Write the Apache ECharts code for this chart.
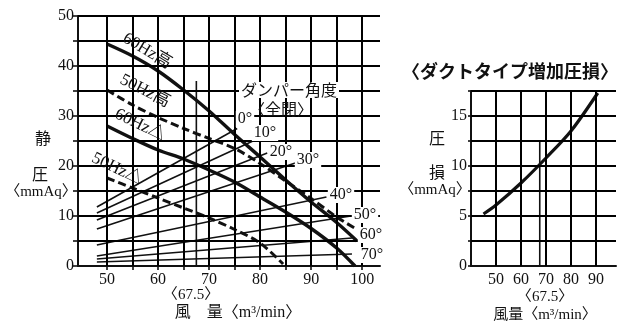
<!DOCTYPE html>
<html><head><meta charset="utf-8">
<script src="https://cdn.jsdelivr.net/npm/echarts@6/dist/echarts.min.js"></script>
<style>html,body{margin:0;padding:0;background:#fff}#c{width:619px;height:326px}</style>
</head><body><div id="c"></div>
<script>
// ---------- data (left chart: fan curves, static pressure mmAq vs air volume m3/min) ----------
const hz60HighQ = [50, 55, 60, 65, 70, 75, 80, 85, 90, 95, 99];
const hz60HighP = [44.4, 42, 39, 35.2, 31, 26.3, 21.8, 17.2, 12.8, 8.7, 5];
const hz60TriQ  = [50, 55, 60, 65, 70, 75, 80, 85, 90, 95, 98.6];
const hz60TriP  = [28, 25.5, 23.2, 21.4, 19.2, 16.8, 13.8, 10.8, 7.5, 3.6, 0];
const hz50HighQ = [50, 55, 60, 65, 70, 75, 80, 85, 90, 95, 98.5];
const hz50HighP = [35.2, 32.2, 29.7, 27.5, 25.5, 23.5, 20.5, 17, 13.5, 9.8, 7.6];
const hz50TriQ  = [50, 55, 60, 65, 70, 75, 80, 84.5];
const hz50TriP  = [17.6, 15.6, 13.6, 11.6, 9.6, 7.3, 4.6, 0.4];
// damper resistance lines (0°..70°)
const damperNames  = ['0°', '10°', '20°', '30°', '40°', '50°', '60°', '70°'];
const damperStartQ = [48, 48, 48, 48, 48, 48, 48, 48];
const damperStartP = [11.8, 10.6, 9.2, 7.4, 4.2, 2.0, 1.4, 0.8];
const damperEndQ   = [75.5, 78.6, 81.4, 86.9, 93, 97.8, 98, 98];
const damperEndP   = [27.5, 25, 22.6, 20.6, 13.8, 10, 5.6, 2.4];
const markQ = 67.5;
const leftMarkTop = 37;
const leftXMin = 44.3, leftXMax = 103.5, leftYMax = 50;
const leftXTicks = [50, 60, 70, 80, 90, 100];
const leftXGrid  = [50, 55, 60, 65, 70, 75, 80, 85, 90, 95, 100];
const leftYGrid  = [5, 10, 15, 20, 25, 30, 35, 40, 45, 50];
// ---------- right chart: duct type additional pressure loss ----------
const ductQ = [45, 50, 60, 70, 80, 90.7];
const ductP = [5.2, 6.1, 8.3, 10.8, 13.5, 17.3];
const rightMarkTop = 12.5;
const rightXMin = 40, rightXMax = 98, rightYMax = 17.5;
const rightXLabels = [50, 60, 70, 80, 90];
const rightXGrid = [50, 60, 70, 80, 90];
const rightYGrid = [2.5, 5, 7.5, 10, 12.5, 15, 17.5];

const pairs = (xs, ys) => xs.map((x, i) => [x, ys[i]]);
const SERIF = "'Liberation Serif','Noto Sans CJK JP',serif";
const JP = "'Noto Sans CJK JP','Liberation Serif',sans-serif";
const INK = '#111';

const chart = echarts.init(document.getElementById('c'), null, {renderer: 'canvas'});

const thick = {color: INK, width: 3.4};
const dashed = {color: INK, width: 3, type: [8, 4]};
const thin = () => ({color: INK, width: 1.6});
const gridStyle = () => ({color: '#000', width: 2, type: 'solid'});
const series = [];

function gridCarrier(axisIdx, xs, ys, x0, x1, y1) {
  const lines = xs.map(v => [{coord: [v, 0]}, {coord: [v, y1]}])
    .concat(ys.map(v => [{coord: [x0, v]}, {coord: [x1, v]}]));
  return {type: 'line', xAxisIndex: axisIdx, yAxisIndex: axisIdx, data: [], z: 1,
    markLine: {silent: true, symbol: 'none', label: {show: false}, lineStyle: gridStyle(),
      emphasis: {disabled: true}, animation: false, data: lines}};
}
series.push(gridCarrier(0, leftXGrid, leftYGrid, leftXMin, leftXMax, leftYMax));
series.push(gridCarrier(1, rightXGrid, rightYGrid, rightXMin, rightXMax, rightYMax));

series.push(
  {type: 'line', data: pairs(hz60HighQ, hz60HighP), smooth: 0.3, lineStyle: thick},
  {type: 'line', data: pairs(hz60TriQ, hz60TriP), smooth: 0.3, lineStyle: thick},
  {type: 'line', data: pairs(hz50HighQ, hz50HighP), smooth: 0.3, lineStyle: dashed},
  {type: 'line', data: pairs(hz50TriQ, hz50TriP), smooth: 0.3, lineStyle: dashed},
  {type: 'line', data: [[markQ, 0], [markQ, leftMarkTop]], lineStyle: thin()}
);
damperNames.forEach((n, i) => {
  series.push({type: 'line', name: n,
    data: [[damperStartQ[i], damperStartP[i]], [damperEndQ[i], damperEndP[i]]],
    lineStyle: thin()});
});
series.push({type: 'line', xAxisIndex: 1, yAxisIndex: 1, data: pairs(ductQ, ductP), smooth: 0.3, lineStyle: {color: INK, width: 3.2}});
series.push({type: 'line', xAxisIndex: 1, yAxisIndex: 1, data: [[markQ, 0], [markQ, rightMarkTop]], lineStyle: thin()});
series.forEach(s => { s.symbol = 'none'; s.silent = true; s.animation = false; s.clip = false; });

const axisLine = () => ({show: true, lineStyle: {color: INK, width: 2}});
const tick = (len) => ({show: true, length: len, lineStyle: {color: INK, width: 1.6}});

function txt(x, y, text, size, opts) {
  opts = opts || {};
  return {type: 'text', x: x, y: y, rotation: (opts.rot || 0) * Math.PI / 180, z: 100,
    style: Object.assign({text: text, fontSize: size, fontFamily: opts.font || SERIF,
      fontWeight: opts.weight || 'normal', fill: INK, align: 'center', verticalAlign: 'middle'},
      opts.bg ? {backgroundColor: '#fff', padding: [0, 2]} : {})};
}

const texts = [
  txt(43, 138, '静', 16, {font: JP}),
  txt(40, 174, '圧', 16, {font: JP}),
  txt(41, 192, '〈mmAq〉', 15),
  txt(191, 295, '〈67.5〉', 15),
  txt(238, 313, '風　量〈m³/min〉', 16),
  txt(147, 51, '60Hz高', 17, {rot: -31}),
  txt(145, 91, '50Hz高', 17, {rot: -27}),
  txt(140, 125, '60Hz△', 17, {rot: -26}),
  txt(117, 169, '50Hz△', 17, {rot: -26}),
  txt(289, 90, 'ダンパー角度', 16, {font: JP, bg: true}),
  txt(281, 109, '〈全閉〉', 16, {font: JP}),
  txt(245, 119, '0°', 16, {bg: true}),
  txt(265, 133, '10°', 16, {bg: true}),
  txt(281, 152, '20°', 16, {bg: true}),
  txt(308, 160, '30°', 16, {bg: true}),
  txt(341, 195, '40°', 16, {bg: true}),
  txt(365, 215, '50°', 16, {bg: true}),
  txt(371, 235, '60°', 16, {bg: true}),
  txt(372, 255, '70°', 16, {bg: true}),
  txt(510, 71, '〈ダクトタイプ増加圧損〉', 18, {font: JP, weight: 'bold'}),
  txt(437, 138, '圧', 16, {font: JP}),
  txt(437, 172, '損', 16, {font: JP}),
  txt(435, 190, '〈mmAq〉', 15),
  txt(545, 297, '〈67.5〉', 15),
  txt(545, 315, '風量〈m³/min〉', 15)
];

chart.setOption({
  animation: false,
  backgroundColor: '#fff',
  grid: [
    {left: 78, top: 16, width: 302, height: 250},
    {left: 471, top: 91, width: 147, height: 175}
  ],
  xAxis: [
    {type: 'value', gridIndex: 0, min: leftXMin, max: leftXMax,
      axisLine: axisLine(),
      axisTick: Object.assign(tick(4), {customValues: leftXGrid}),
      axisLabel: {customValues: leftXTicks, color: INK, fontFamily: SERIF, fontSize: 16, margin: 6},
      splitLine: {show: false}},
    {type: 'value', gridIndex: 1, min: rightXMin, max: rightXMax, interval: 10,
      axisLine: axisLine(), axisTick: {show: false},
      axisLabel: {color: INK, fontFamily: SERIF, fontSize: 16, margin: 6,
        formatter: v => rightXLabels.indexOf(v) >= 0 ? String(v) : ''},
      splitLine: {show: false}}
  ],
  yAxis: [
    {type: 'value', gridIndex: 0, min: 0, max: leftYMax, interval: 5,
      axisLine: axisLine(), axisTick: tick(5),
      axisLabel: {color: INK, fontFamily: SERIF, fontSize: 16, margin: 4,
        formatter: v => v % 10 === 0 ? String(v) : ''},
      splitLine: {show: false}},
    {type: 'value', gridIndex: 1, min: 0, max: rightYMax, interval: 2.5,
      axisLine: axisLine(), axisTick: tick(3),
      axisLabel: {color: INK, fontFamily: SERIF, fontSize: 16, margin: 4,
        formatter: v => v % 5 === 0 ? String(v) : ''},
      splitLine: {show: true, lineStyle: gridStyle()}}
  ],
  series: series,
  graphic: {elements: texts}
});

// extra pass: right-chart horizontal grid lines positioned through the right axes' scales, drawn on top
const rightLines = rightYGrid.map(v => {
  const a = chart.convertToPixel({xAxisIndex: 1, yAxisIndex: 1}, [rightXMin, v]);
  const b = chart.convertToPixel({xAxisIndex: 1, yAxisIndex: 1}, [rightXMax, v]);
  return {type: 'rect', z: 50, silent: true,
    shape: {x: a[0], y: Math.round(a[1]) - 1, width: b[0] - a[0], height: 2},
    style: {fill: '#000'}};
});
chart.setOption({graphic: {elements: texts.concat(rightLines)}});
</script></body></html>
